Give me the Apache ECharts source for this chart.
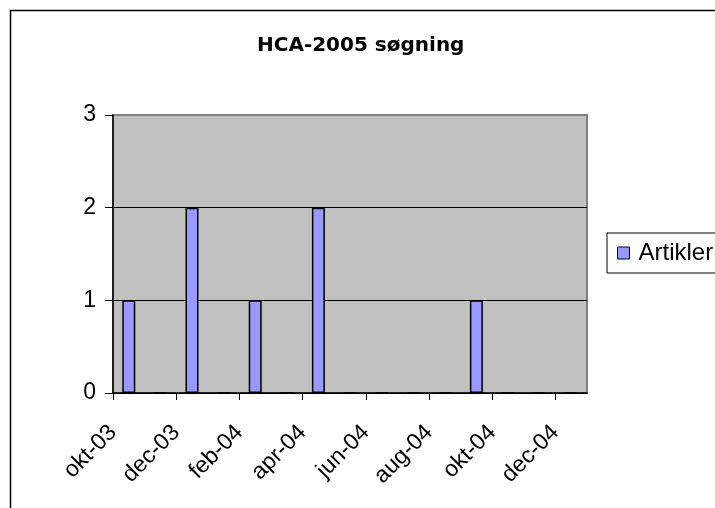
<!DOCTYPE html>
<html>
<head>
<meta charset="utf-8">
<script src="https://cdn.jsdelivr.net/npm/echarts@6/dist/echarts.min.js"></script>
<style>html,body{margin:0;padding:0;background:#fff;}#c{width:715px;height:508px;}</style>
</head>
<body>
<div id="c"></div>
<script>
var titleText = 'HCA-2005 søgning';
var seriesName = 'Artikler';
var months = ['okt-03','nov-03','dec-03','jan-04','feb-04','mar-04','apr-04','maj-04','jun-04','jul-04','aug-04','sep-04','okt-04','nov-04','dec-04'];
var artikler = [1,0,2,0,1,0,2,0,0,0,0,1,0,0,0];
var tickLabels = ['okt-03','dec-03','feb-04','apr-04','jun-04','aug-04','okt-04','dec-04'];
var tickValues = tickLabels.map(function(_, i){ return i * 2; });

var chart = echarts.init(document.getElementById('c'), null, {renderer: 'canvas'});
var font = 'Liberation Sans, Arial, sans-serif';
chart.setOption({
  animation: false,
  backgroundColor: '#fff',
  graphic: [{
    type: 'rect', z: -10,
    shape: {x: 10.5, y: 10.5, width: 800, height: 600},
    style: {fill: '#fff', stroke: '#000', lineWidth: 1.5}
  }],
  title: {
    text: titleText,
    left: 252, top: 31,
    textStyle: {fontFamily: 'DejaVu Sans, sans-serif', fontSize: 20, fontWeight: 'bold', color: '#000'}
  },
  legend: {
    data: [seriesName],
    left: 607, top: 233,
    orient: 'vertical',
    padding: [8, 20, 8, 10],
    borderColor: '#000', borderWidth: 1,
    icon: 'rect', itemWidth: 12, itemHeight: 12,
    itemStyle: {borderColor: '#000', borderWidth: 1},
    textStyle: {fontFamily: font, fontSize: 24, color: '#000', padding: [0, 0, 0, 4]}
  },
  grid: {
    left: 113, top: 115, right: 128, bottom: 115,
    show: true, backgroundColor: '#C0C0C0', borderColor: '#808080', borderWidth: 2
  },
  xAxis: [{
    type: 'category', data: months, boundaryGap: true,
    show: false
  }, {
    type: 'value', min: 0, max: months.length, position: 'bottom',
    axisLine: {show: true, lineStyle: {color: '#000', width: 1.5}},
    axisTick: {show: true, length: 7, customValues: tickValues, lineStyle: {color: '#000', width: 1}},
    splitLine: {show: false},
    axisLabel: {
      customValues: tickValues,
      rotate: 45, margin: 36,
      fontFamily: font, fontSize: 23, color: '#000',
      formatter: function(v){ return tickLabels[Math.round(v / 2)] || ''; }
    }
  }],
  yAxis: {
    type: 'value', min: 0, max: 3, interval: 1,
    axisLine: {show: true, lineStyle: {color: '#000', width: 1.5}},
    axisTick: {show: true, length: 8, lineStyle: {color: '#000'}},
    splitLine: {show: true, showMaxLine: false, lineStyle: {color: '#000', width: 1}},
    axisLabel: {margin: 17, fontFamily: font, fontSize: 23, color: '#000'}
  },
  series: [{
    name: seriesName, type: 'bar', xAxisIndex: 0,
    data: artikler, barWidth: 13,
    itemStyle: {color: '#9999FF', borderColor: '#000', borderWidth: 1.5}
  }]
});
</script>
</body>
</html>
